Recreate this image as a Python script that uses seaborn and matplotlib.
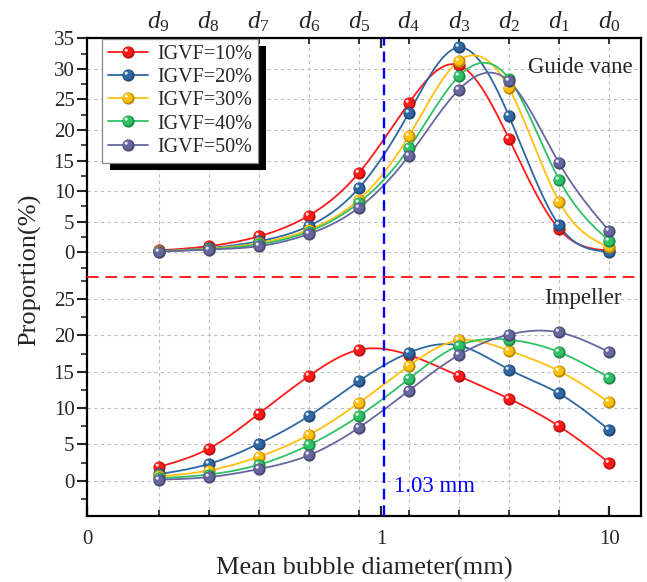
import numpy as np
import pandas as pd
import matplotlib
matplotlib.use("Agg")
import matplotlib.pyplot as plt
import matplotlib.ticker as mticker
from matplotlib.lines import Line2D
from matplotlib.patches import Rectangle
from matplotlib.path import Path
from matplotlib.transforms import IdentityTransform
from matplotlib.legend_handler import HandlerTuple
import seaborn as sns

# ---------------------------------------------------------------- data
diameters = [0.105, 0.174, 0.289, 0.480, 0.796, 1.32, 2.19, 3.63, 6.03, 10.0]
size_labels = [r"$d_9$", r"$d_8$", r"$d_7$", r"$d_6$", r"$d_5$",
               r"$d_4$", r"$d_3$", r"$d_2$", r"$d_1$", r"$d_0$"]
series_names = ["IGVF=10%", "IGVF=20%", "IGVF=30%", "IGVF=40%", "IGVF=50%"]
series_colors = ["#ff1a1a", "#2f67a3", "#ffc10e", "#2fc166", "#67679f"]

# Guide vane bubble size distribution (%)
gv_10 = [0.3, 1.0, 2.6, 6.0, 13.0, 24.4, 30.6, 18.6, 3.8, 0.3]
gv_20 = [0.2, 0.7, 1.8, 4.3, 10.5, 22.8, 33.5, 22.3, 4.4, 0.1]
gv_30 = [0.15, 0.6, 1.5, 3.7, 8.6, 19.0, 31.3, 26.9, 8.3, 0.8]
gv_40 = [0.12, 0.5, 1.3, 3.4, 8.1, 17.0, 28.8, 28.4, 11.9, 1.9]
gv_50 = [0.1, 0.45, 1.0, 3.0, 7.3, 15.8, 26.6, 28.0, 14.6, 3.5]

# Impeller bubble size distribution (%)
imp_10 = [1.9, 4.4, 9.2, 14.4, 18.0, 17.3, 14.4, 11.3, 7.5, 2.5]
imp_20 = [0.9, 2.3, 5.1, 8.9, 13.7, 17.6, 18.6, 15.3, 12.0, 7.0]
imp_30 = [0.6, 1.4, 3.3, 6.3, 10.7, 15.8, 19.3, 17.9, 15.1, 10.8]
imp_40 = [0.35, 0.85, 2.2, 4.9, 8.9, 14.0, 18.6, 19.4, 17.7, 14.2]
imp_50 = [0.15, 0.5, 1.6, 3.5, 7.3, 12.4, 17.3, 20.1, 20.4, 17.7]

threshold_mm = 1.03

# ---------------------------------------------------------------- style
sns.set_style("white")
plt.rcParams["font.family"] = ["Liberation Serif", "DejaVu Serif"]
plt.rcParams["mathtext.fontset"] = "custom"
plt.rcParams["mathtext.rm"] = "Liberation Serif"
plt.rcParams["mathtext.it"] = "Liberation Serif:italic"
plt.rcParams["axes.linewidth"] = 1.6


def natural_spline(u, y, uu):
    """Natural cubic spline through (u, y), evaluated at uu."""
    u = np.asarray(u, float)
    y = np.asarray(y, float)
    n = len(u)
    h = np.diff(u)
    A = np.zeros((n, n))
    r = np.zeros(n)
    A[0, 0] = A[-1, -1] = 1.0
    for i in range(1, n - 1):
        A[i, i - 1] = h[i - 1]
        A[i, i] = 2 * (h[i - 1] + h[i])
        A[i, i + 1] = h[i]
        r[i] = 6 * ((y[i + 1] - y[i]) / h[i] - (y[i] - y[i - 1]) / h[i - 1])
    M = np.linalg.solve(A, r)
    k = np.clip(np.searchsorted(u, uu) - 1, 0, n - 2)
    hk = h[k]
    a = u[k + 1] - uu
    b = uu - u[k]
    return (M[k] * a ** 3 / (6 * hk) + M[k + 1] * b ** 3 / (6 * hk)
            + (y[k] / hk - M[k] * hk / 6) * a
            + (y[k + 1] / hk - M[k + 1] * hk / 6) * b)


def build_frames(series_values):
    pts, curves = [], []
    logd = np.log10(diameters)
    fine = np.linspace(logd[0], logd[-1], 400)
    for name, vals in zip(series_names, series_values):
        pts.append(pd.DataFrame({"diameter": diameters, "proportion": vals,
                                 "series": name}))
        curves.append(pd.DataFrame({"diameter": 10 ** fine,
                                    "proportion": natural_spline(logd, vals, fine),
                                    "series": name}))
    return pd.concat(pts, ignore_index=True), pd.concat(curves, ignore_index=True)


def shade(c, f):
    rgb = np.array(matplotlib.colors.to_rgb(c))
    return tuple(rgb * f)


# sphere-like marker layers: dark body, lit face, specular spot
def offset_circle(cx, cy, r):
    circ = Path.circle(center=(cx, cy), radius=r)
    verts = np.vstack([circ.vertices, [[0.5, -0.5]]])
    codes = list(circ.codes) + [Path.MOVETO]
    return Path(verts, codes)


face_marker = offset_circle(-0.06, 0.06, 0.40)
spot_marker = offset_circle(-0.19, 0.19, 0.13)

dark_palette = dict(zip(series_names, [shade(c, 0.72) for c in series_colors]))
base_palette = dict(zip(series_names, series_colors))
MS = 8.8


def draw_panel(ax, series_values):
    pts, curves = build_frames(series_values)
    sns.lineplot(data=curves, x="diameter", y="proportion", hue="series",
                 palette=base_palette, estimator=None, sort=False, legend=False,
                 lw=1.3, ax=ax, zorder=2)
    for name in series_names:
        sub = pts[pts["series"] == name]
        sns.scatterplot(data=sub, x="diameter", y="proportion", color=dark_palette[name],
                        s=MS ** 2, marker="o", linewidth=0, legend=False, ax=ax, zorder=3)
        sns.scatterplot(data=sub, x="diameter", y="proportion", color=base_palette[name],
                        s=MS ** 2, marker=face_marker, linewidth=0, legend=False, ax=ax,
                        zorder=3)
        sns.scatterplot(data=sub, x="diameter", y="proportion", color="white", alpha=0.85,
                        s=MS ** 2, marker=spot_marker, linewidth=0, legend=False, ax=ax,
                        zorder=3)


# ---------------------------------------------------------------- figure
fig = plt.figure(figsize=(6.47, 5.82), dpi=100)
ax_top = fig.add_axes([0.1345, 0.5235, 0.8563, 0.4107])
ax_bot = fig.add_axes([0.1345, 0.1139, 0.8563, 0.4096])

draw_panel(ax_top, [gv_10, gv_20, gv_30, gv_40, gv_50])
draw_panel(ax_bot, [imp_10, imp_20, imp_30, imp_40, imp_50])

x_left, x_right = 0.0509, 13.82
grid_kw = dict(color="#bdbdbd", linestyle=(0, (3, 3)), linewidth=0.8)

for ax in (ax_top, ax_bot):
    ax.set_xscale("log")
    ax.set_xlim(x_left, x_right)
    ax.set_xlabel("")
    ax.set_ylabel("")
    ax.yaxis.set_major_locator(mticker.MultipleLocator(5))
    ax.yaxis.set_minor_locator(mticker.MultipleLocator(2.5))
    ax.yaxis.set_major_formatter(mticker.FormatStrFormatter("%d"))
    ax.tick_params(axis="y", which="major", direction="out", length=7, width=1.5,
                   labelsize=15, pad=2, left=True, right=False)
    ax.tick_params(axis="y", which="minor", direction="out", length=4, width=1.2,
                   left=True, right=False)
    ax.yaxis.grid(True, which="major", **grid_kw)
    ax.axvline(threshold_mm, color="#0000ff", lw=1.7, linestyle=(0, (4.5, 2.5)), zorder=4)
    for s in ax.spines.values():
        s.set_linewidth(1.6)
        s.set_color("black")

# upper panel: guide vane
ax_top.set_ylim(-4.09, 35)
ax_top.spines["bottom"].set_visible(False)
ax_top.xaxis.tick_top()
ax_top.xaxis.set_major_locator(mticker.FixedLocator(diameters))
ax_top.xaxis.set_major_formatter(mticker.FixedFormatter(size_labels))
ax_top.xaxis.set_minor_locator(mticker.FixedLocator([1.0]))
ax_top.xaxis.set_minor_formatter(mticker.NullFormatter())
ax_top.tick_params(axis="x", which="major", direction="in", length=4, width=1.3,
                   labelsize=18, pad=3, top=True, bottom=False)
ax_top.tick_params(axis="x", which="minor", direction="in", length=7, width=1.6,
                   top=True, bottom=False)
ax_top.xaxis.grid(True, which="major", **grid_kw)
ax_top.text(0.9856, 0.876, "Guide vane", transform=ax_top.transAxes, ha="right",
            va="center", fontsize=16.5)

# lower panel: impeller
ax_bot.set_ylim(-4.81, 27.98)
ax_bot.spines["top"].set_visible(False)
ax_bot.xaxis.set_major_locator(mticker.FixedLocator([x_left, 1.0, 10.0]))
ax_bot.xaxis.set_major_formatter(mticker.FixedFormatter(["0", "1", "10"]))
ax_bot.xaxis.set_minor_locator(mticker.FixedLocator(diameters))
ax_bot.xaxis.set_minor_formatter(mticker.NullFormatter())
ax_bot.tick_params(axis="x", which="major", direction="in", length=7, width=1.6,
                   labelsize=15, pad=10, bottom=True, top=False)
ax_bot.tick_params(axis="x", which="minor", direction="in", length=4, width=1.3,
                   bottom=True, top=False)
ax_bot.xaxis.grid(True, which="minor", **grid_kw)
ax_bot.xaxis.grid(False, which="major")
ax_bot.text(0.9657, 0.913, "Impeller", transform=ax_bot.transAxes, ha="right",
            va="center", fontsize=16.5)
ax_bot.annotate(f"{threshold_mm:.2f} mm", xy=(threshold_mm, 0.122),
                xycoords=("data", "axes fraction"), xytext=(7, 0),
                textcoords="offset points", va="center", ha="left",
                color="#0000ff", fontsize=16.5)
# dashed divider between the two regions
ax_bot.plot([0, 1], [1, 1], transform=ax_bot.transAxes, color="#ff2020", lw=1.4,
            linestyle=(0, (6, 3.5)), clip_on=False, zorder=5)

ax_bot.set_xlabel("Mean bubble diameter(mm)", fontsize=19, labelpad=6)
fig.text(0.046, 1 - 270 / 582, "Proportion(%)", rotation=90, ha="center",
         va="center", fontsize=19)

# legend with solid drop shadow
handles = []
for name in series_names:
    line = Line2D([], [], color=base_palette[name], lw=1.3, marker="o", ms=MS,
                  mfc=dark_palette[name], mec="none")
    face = Line2D([], [], linestyle="none", marker=face_marker, ms=MS,
                  mfc=base_palette[name], mec="none")
    spot = Line2D([], [], linestyle="none", marker=spot_marker, ms=MS,
                  mfc="white", mec="none", alpha=0.85)
    handles.append((line, face, spot))

leg = ax_top.legend(handles, series_names, loc="upper left",
                    bbox_to_anchor=(0.027, 0.997), borderaxespad=0,
                    handler_map={tuple: HandlerTuple(ndivide=1, pad=0)},
                    fontsize=14.5, handlelength=2.0, handletextpad=0.45,
                    labelspacing=0.2, borderpad=0.3, fancybox=False,
                    frameon=True, framealpha=1, edgecolor="#8a8a8a")
leg.get_frame().set_linewidth(0.9)
leg.set_zorder(10)

fig.canvas.draw()
bb = leg.get_window_extent()
ax_top.add_patch(Rectangle((bb.x0 + 8, bb.y0 - 7), bb.width, bb.height,
                           transform=IdentityTransform(), facecolor="black",
                           edgecolor="none", zorder=9, clip_on=False))

fig.savefig("out.png", dpi=100)
